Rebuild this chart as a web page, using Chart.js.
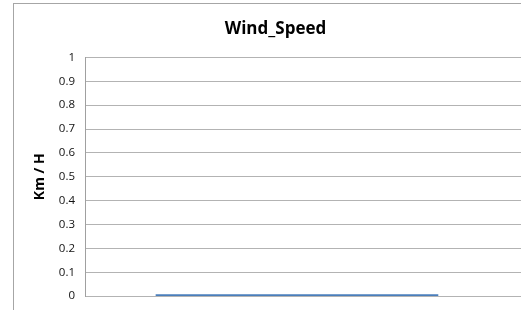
<!DOCTYPE html>
<html>
<head>
<meta charset="utf-8">
<script src="https://cdn.jsdelivr.net/npm/chart.js@4/dist/chart.umd.min.js"></script>
<style>
  html, body { margin: 0; padding: 0; background: #fff; overflow: hidden; width: 521px; height: 310px; }
  #frame { position: absolute; left: 13px; top: 3px; width: 700px; height: 400px; border: 1px solid #a6a6a6; box-sizing: border-box; }
  #wrap { position: absolute; left: 0; top: 0; width: 531px; height: 313px; }
</style>
</head>
<body>
<div id="frame"></div>
<div id="wrap"><canvas id="c" width="531" height="313"></canvas></div>
<script>
const chartTitle = "Wind_Speed";
const yAxisTitle = "Km / H";
const categories = [1, 2, 3];
const windSpeed = [0, 0, 0];
const yTicks = [0, 0.1, 0.2, 0.3, 0.4, 0.5, 0.6, 0.7, 0.8, 0.9, 1];

const points = categories.map((c, i) => ({ x: c, y: windSpeed[i] }));

new Chart(document.getElementById('c'), {
  type: 'line',
  data: {
    datasets: [{
      label: chartTitle,
      data: points,
      borderColor: '#4a7ebb',
      backgroundColor: '#4a7ebb',
      borderWidth: 3.5,
      pointRadius: 0,
      tension: 0
    }]
  },
  options: {
    responsive: false,
    animation: false,
    events: [],
    layout: { padding: { left: 20, right: 0, top: 0, bottom: 7 } },
    plugins: {
      legend: { display: false },
      tooltip: { enabled: false },
      title: {
        display: true,
        text: chartTitle,
        color: '#000',
        font: { family: 'Open Sans', size: 17, weight: 'bold' },
        padding: { top: 19, bottom: 18 }
      }
    },
    scales: {
      x: {
        type: 'linear',
        display: false,
        min: 0.5,
        max: 3.656
      },
      y: {
        min: 0,
        max: 1,
        afterBuildTicks: s => { s.ticks = yTicks.map(v => ({ value: v })); },
        afterFit: s => { s.width = 65; },
        border: { display: true, color: '#a0a0a0', width: 1 },
        grid: { color: '#b3b3b3', lineWidth: 1, drawTicks: false },
        ticks: {
          color: '#111',
          font: { family: 'Open Sans', size: 11.5 },
          padding: 10,
          callback: v => String(Math.round(v * 10) / 10)
        },
        title: {
          display: true,
          text: yAxisTitle,
          color: '#000',
          font: { family: 'Open Sans', size: 14, weight: 'bold' },
          padding: { top: 12, bottom: 0 }
        }
      }
    }
  }
});
</script>
</body>
</html>
